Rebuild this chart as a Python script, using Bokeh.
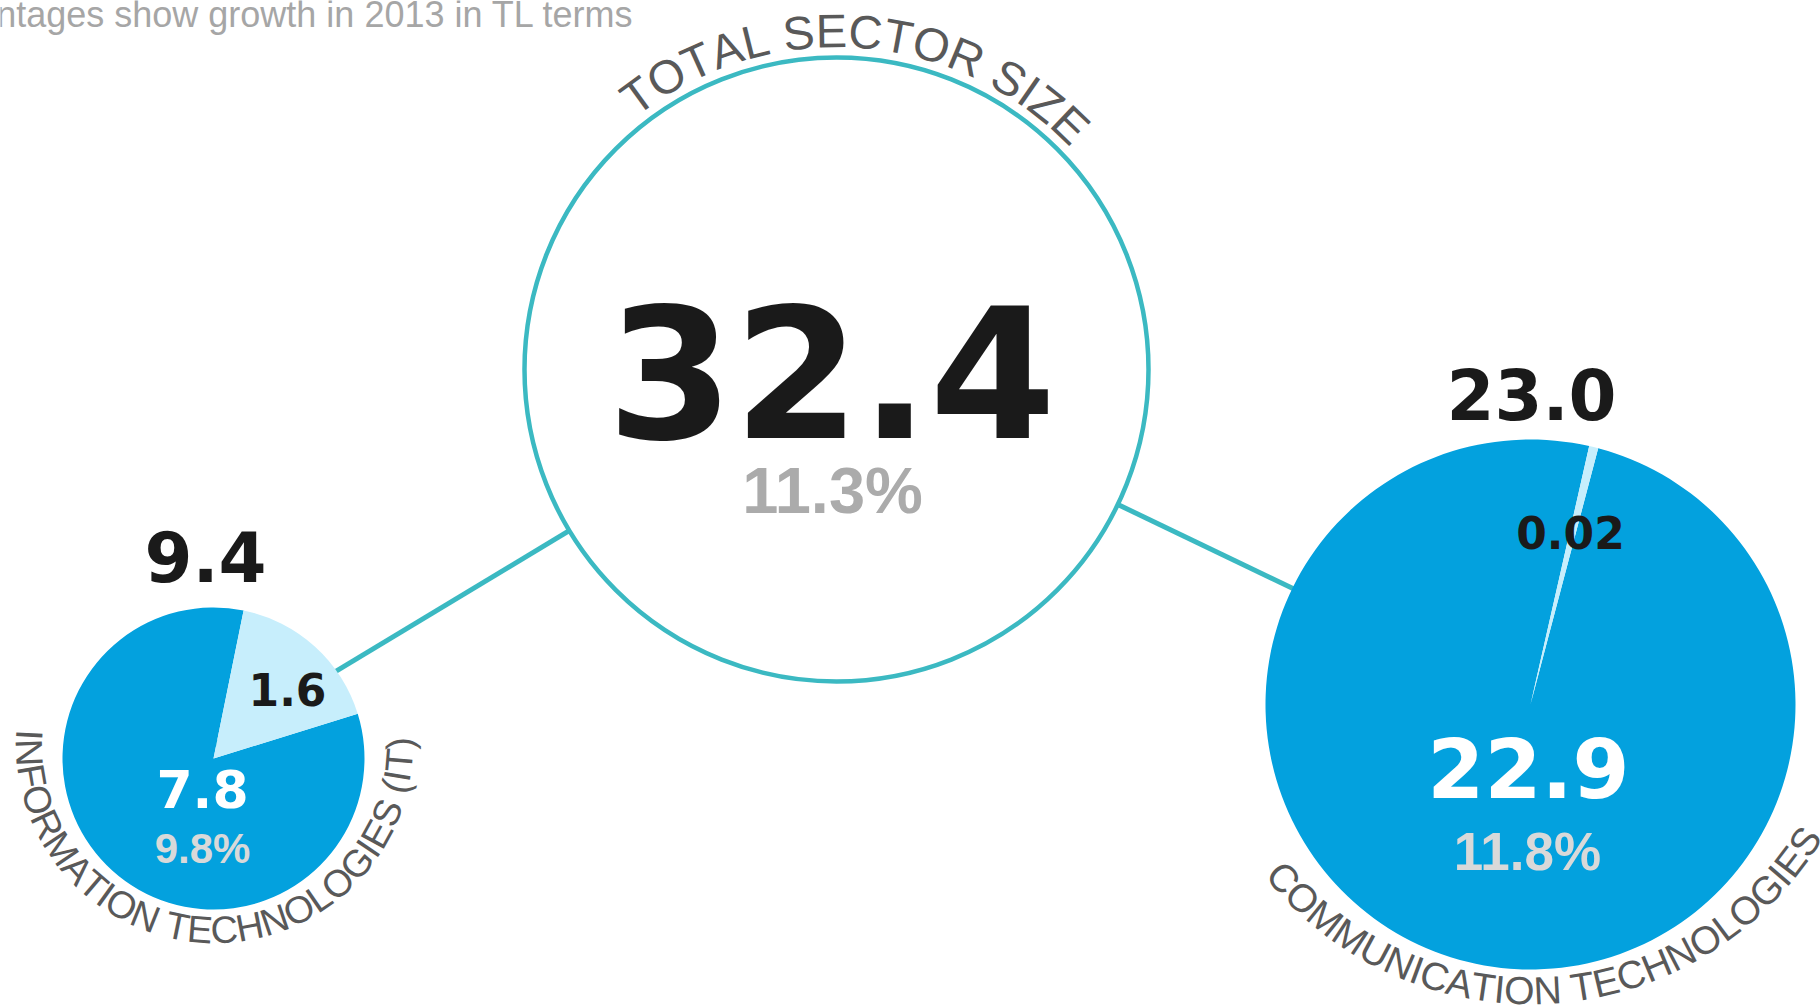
import math
from bokeh.plotting import figure
from bokeh.models import Range1d
from bokeh.core.properties import value
from bokeh.embed import file_html
from bokeh.resources import INLINE

# ---------------- data ----------------
group_names = ["TOTAL SECTOR SIZE", "INFORMATION TECHNOLOGIES (IT)", "COMMUNICATION TECHNOLOGIES"]
group_totals = [32.4, 9.4, 23.0]
growth_pct = [11.3, 9.8, 11.8]
it_split = [7.8, 1.6]
it_split_labels = ["7.8", "1.6"]
comm_split = [22.9, 0.02]
comm_split_labels = ["22.9", "0.02"]
subtitle = "Percentages show growth in 2013 in TL terms"

# ---------------- layout (screen px of the reference) ----------------
W, H = 1820, 1008
OX, OY = 0, 0


def sx(X):
    return X - OX


def sy(Y):
    return H - (Y - OY)


BLUE = "#03A1DE"
LIGHT = "#C7EEFC"
TEAL = "#3BB9C2"
DARK = "#1A1A1A"
LABEL = "#595959"
HEAVY = value("DejaVu Sans")
ARIAL = value("Liberation Sans")
K_HEAVY = 0.375   # baseline correction (fraction of em)
K_ARIAL = 0.355

# glyph advance widths (Arial / Liberation Sans metrics, per 1000 em)
CW = {"A": 667, "C": 722, "E": 667, "F": 611, "G": 778, "H": 722, "I": 278,
      "L": 556, "M": 833, "N": 722, "O": 778, "R": 722, "S": 667, "T": 611,
      "U": 722, "Z": 611, " ": 278, "(": 333, ")": 333}


def arc_chars(text, cx, cy, R, mid_deg, size, where):
    adv = [CW.get(c, 600) * size / 1000.0 for c in text]
    total = sum(adv)
    xs, ys, cs, angs = [], [], [], []
    s = -total / 2.0
    Ra = R + K_ARIAL * size if where == "top" else R - K_ARIAL * size
    for c, a in zip(text, adv):
        sc = s + a / 2.0
        ang = math.radians(mid_deg) + sc / R
        if where == "top":
            X = cx + Ra * math.sin(ang)
            Y = cy - Ra * math.cos(ang)
            rot = -ang
        else:
            X = cx + Ra * math.sin(ang)
            Y = cy + Ra * math.cos(ang)
            rot = ang
        s += a
        if c != " ":
            xs.append(sx(X)); ys.append(sy(Y)); cs.append(c); angs.append(rot)
    return dict(x=xs, y=ys, text=cs, angle=angs)


p = figure(width=W, height=H, x_range=Range1d(0, W), y_range=Range1d(0, H),
           output_backend="svg", toolbar_location=None, min_border=0,
           x_axis_type=None, y_axis_type=None)
p.grid.visible = False
p.outline_line_color = None
p.background_fill_color = "white"
p.border_fill_color = "white"

# node geometry
tot_c = (836, 369); tot_r = 312
it_c = (213, 758); it_r = 151; it_anchor = (214, 744)
cm_c = (1530, 704); cm_r = 265; cm_anchor = (1530, 702)

# connecting lines
p.segment(x0=[sx(tot_c[0]), sx(tot_c[0])], y0=[sy(tot_c[1]), sy(tot_c[1])],
          x1=[sx(it_anchor[0]), sx(cm_anchor[0])], y1=[sy(it_anchor[1]), sy(cm_anchor[1])],
          line_color=TEAL, line_width=5)

# total circle
p.circle(x=[sx(tot_c[0])], y=[sy(tot_c[1])], radius=tot_r, fill_color="white",
         line_color=TEAL, line_width=4.5)


def pie(center, r, parts, start_cw_deg, min_sweep=2.0):
    main, small = parts
    sweep = max(small / (main + small) * 360.0, min_sweep)
    t1 = start_cw_deg
    t2 = start_cw_deg + sweep
    cx, cy = sx(center[0]), sy(center[1])
    rad = math.radians
    p.wedge(x=[cx], y=[cy], radius=r, start_angle=rad(90 - t1), end_angle=rad(90 - t2 + 360),
            fill_color=BLUE, line_color=None)
    p.wedge(x=[cx], y=[cy], radius=r, start_angle=rad(90 - t2), end_angle=rad(90 - t1),
            fill_color=LIGHT, line_color=None)


pie(it_c, it_r, it_split, 11.5)
pie(cm_c, cm_r, comm_split, 12.8)


def label(X, Y, txt, size, color, font, k, bold=True, align="center"):
    p.text(x=[sx(X)], y=[sy(Y - k * size)], text=[txt], text_font=font,
           text_font_size=f"{size}px", text_color=color,
           text_font_style="bold" if bold else "normal",
           text_align=align, text_baseline="alphabetic")


# numbers
label(831, 439, f"{group_totals[0]:.1f}", 182, DARK, HEAVY, K_HEAVY)
label(832, 513, f"{growth_pct[0]:.1f}%", 65, "#ABABAB", ARIAL, K_ARIAL)
label(205, 582, f"{group_totals[1]:.1f}", 69, DARK, HEAVY, K_HEAVY)
label(287, 705, it_split_labels[1], 44, DARK, HEAVY, K_HEAVY)
label(202, 808, it_split_labels[0], 52, "white", HEAVY, K_HEAVY)
label(202, 863, f"{growth_pct[1]:.1f}%", 42, "#D9D9D9", ARIAL, K_ARIAL)
label(1531, 420, f"{group_totals[2]:.1f}", 69, DARK, HEAVY, K_HEAVY)
label(1570, 548, comm_split_labels[1], 44, DARK, HEAVY, K_HEAVY)
label(1528, 798, comm_split_labels[0], 82, "white", HEAVY, K_HEAVY)
label(1527, 870, f"{growth_pct[2]:.1f}%", 53, "#D9D9D9", ARIAL, K_ARIAL)

# curved group names
for d, sz in ((arc_chars(group_names[0], 836, 369, 322, 4.0, 47, "top"), 47),
              (arc_chars(group_names[1], 214, 744, 199, -1.2, 38, "bottom"), 38),
              (arc_chars(group_names[2], 1530, 663, 341, 3.9, 39, "bottom"), 39)):
    p.text(x="x", y="y", text="text", angle="angle", source=d,
           text_font=ARIAL, text_font_size=f"{sz}px", text_color=LABEL,
           text_align="center", text_baseline="alphabetic")

# subtitle (cut at the left edge as in the source image)
label(634, 27, subtitle, 36, "#A6A6A6", ARIAL, K_ARIAL, bold=False, align="right")

open("out.html", "w").write(file_html(p, INLINE))
